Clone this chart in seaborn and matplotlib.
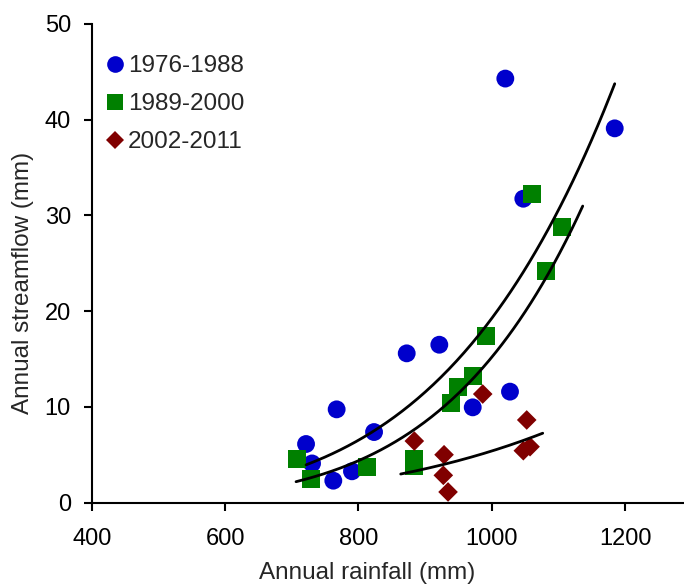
import numpy as np
import pandas as pd
import matplotlib
matplotlib.use("Agg")
import matplotlib.pyplot as plt
import seaborn as sns

# ---- data ----
periods = ["1976-1988", "1989-2000", "2002-2011"]

rain_1976 = [721.5, 767.4, 730.5, 762.4, 790.4, 823.5, 872.5, 921.4, 971.5, 1027.4, 1020.4, 1184.5, 1047.4]
flow_1976 = [6.13, 9.75, 4.10, 2.30, 3.28, 7.38, 15.6, 16.5, 9.96, 11.6, 44.3, 39.1, 31.75]

rain_1989 = [707.5, 728.5, 813.4, 883.5, 883.5, 938.5, 949.9, 972.4, 991.4, 1060.0, 1105.0, 1081.5]
flow_1989 = [4.56, 2.44, 3.76, 4.56, 3.87, 10.44, 12.05, 13.27, 17.4, 32.2, 28.8, 24.2]

rain_2002 = [986.5, 1052.5, 1047.4, 1057.5, 928.5, 927.4, 934.5, 883.9]
flow_2002 = [11.35, 8.64, 5.43, 5.85, 5.01, 2.86, 1.12, 6.44]

# x range covered by each power-law trend line
trend_start = [721.5, 706.5, 863.5]
trend_end = [1184.5, 1136.5, 1076.5]

x_ticks = [400, 600, 800, 1000, 1200]
y_ticks = [0, 10, 20, 30, 40, 50]

colors = {"1976-1988": "#0000CC", "1989-2000": "#008000", "2002-2011": "#800000"}
markers = {"1976-1988": "o", "1989-2000": "s", "2002-2011": "D"}
sizes = {"1976-1988": 165, "1989-2000": 170, "2002-2011": 100}

rains = [rain_1976, rain_1989, rain_2002]
flows = [flow_1976, flow_1989, flow_2002]
df = pd.concat(
    [pd.DataFrame({"rain": r, "flow": f, "period": p}) for r, f, p in zip(rains, flows, periods)],
    ignore_index=True,
)

# ---- styling ----
sns.set_style("ticks")
plt.rcParams["font.family"] = ["Liberation Sans", "DejaVu Sans"]

W, H = 684, 586
fig = plt.figure(figsize=(W / 100, H / 100), dpi=100)
ax_left, ax_right, ax_top, ax_bottom = 91.7, 684.0, 24.0, 502.7
ax = fig.add_axes([ax_left / W, 1 - ax_bottom / H, (ax_right - ax_left) / W, (ax_bottom - ax_top) / H])

sns.scatterplot(
    data=df, x="rain", y="flow", hue="period", style="period", size="period",
    palette=colors, markers=markers, sizes=sizes, hue_order=periods,
    style_order=periods, size_order=periods, linewidth=0, alpha=1, ax=ax, zorder=2,
    clip_on=False,
)

# power-law trend lines (log-log least squares)
for r, f, x0, x1 in zip(rains, flows, trend_start, trend_end):
    b1, b0 = np.polyfit(np.log(r), np.log(f), 1)
    xs = np.linspace(x0, x1, 200)
    ys = np.exp(b0) * xs ** b1
    sns.lineplot(x=xs, y=ys, color="black", linewidth=2.0, sort=False,
                 estimator=None, legend=False, ax=ax, zorder=3)

px_per_unit_x = 0.6667
ax.set_xlim(400, 400 + (ax_right - ax_left) / px_per_unit_x)
ax.set_ylim(0, 50)
ax.set_xticks(x_ticks)
ax.set_yticks(y_ticks)
ax.tick_params(axis="both", direction="out", length=6, width=1.5, labelsize=17, colors="black")
ax.tick_params(axis="x", pad=12)
ax.tick_params(axis="y", pad=9)
for s in ["top", "right"]:
    ax.spines[s].set_visible(False)
for s in ["left", "bottom"]:
    ax.spines[s].set_linewidth(1.5)
    ax.spines[s].set_color("black")

ax.set_xlabel("Annual rainfall (mm)", fontsize=17.5)
ax.set_ylabel("Annual streamflow (mm)", fontsize=17.5)
ax.xaxis.set_label_coords((367.5 - ax_left) / (ax_right - ax_left), -(562 - ax_bottom) / (ax_bottom - ax_top))
ax.yaxis.set_label_coords((34 - ax_left) / (ax_right - ax_left), (ax_bottom - 282.5) / (ax_bottom - ax_top))

handles, labels = ax.get_legend_handles_labels()
msize = {"1976-1988": 12, "1989-2000": 11.5, "2002-2011": 9}
hl, ll = [], []
for h, l in zip(handles, labels):
    if l in periods:
        if hasattr(h, "set_markersize"):
            h.set_markersize(msize[l])
        hl.append(h)
        ll.append(l)
leg_fs = 17.5
fs_px = leg_fs * 100 / 72
x0 = 115 - 0.4 * fs_px
leg = ax.legend(
    hl, ll, loc="upper left",
    bbox_to_anchor=((x0 - ax_left) / (ax_right - ax_left), (ax_bottom - 55) / (ax_bottom - ax_top)),
    frameon=False, fontsize=leg_fs, handlelength=0.8, handletextpad=0.12,
    labelspacing=0.66, borderpad=0, borderaxespad=0,
)

fig.savefig("out.png", dpi=100)
